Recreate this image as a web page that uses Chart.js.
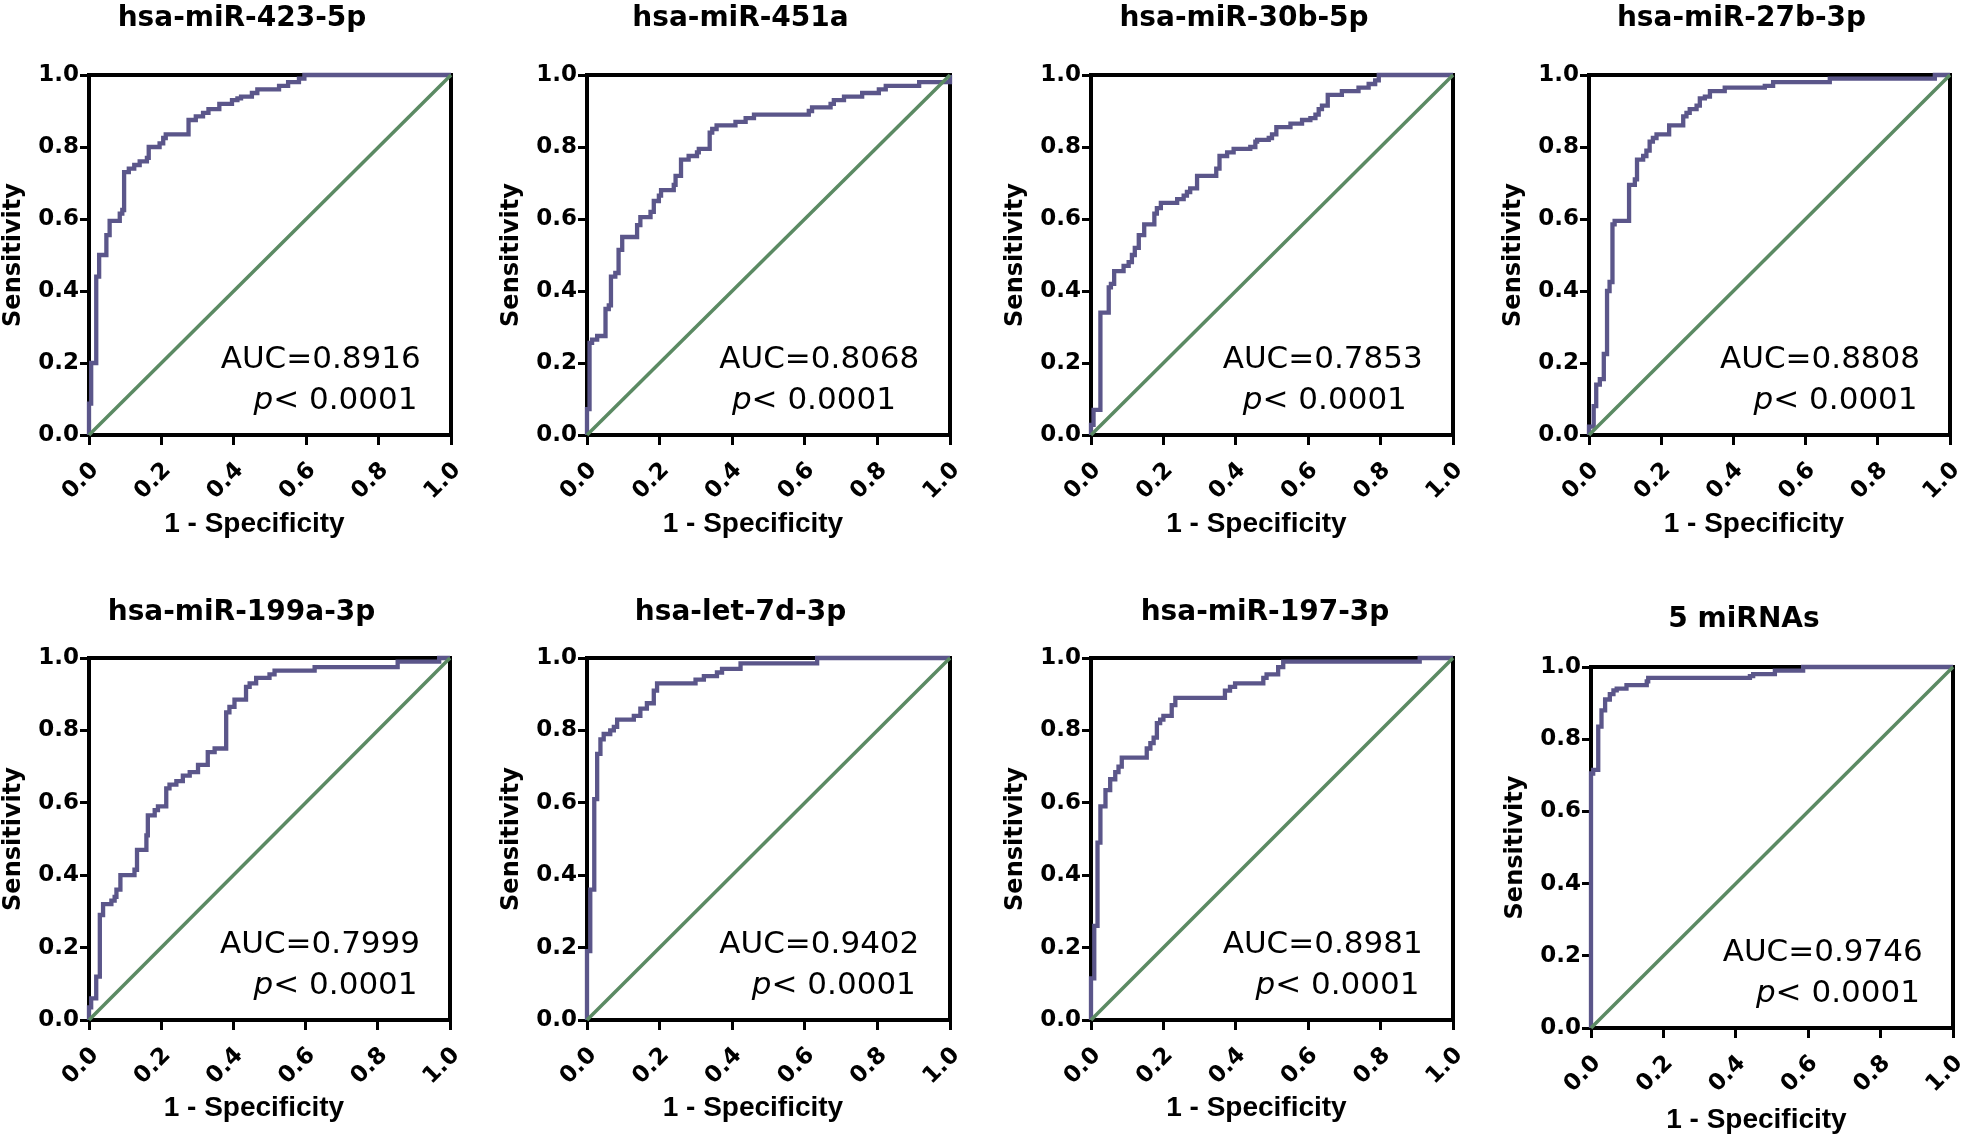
<!DOCTYPE html>
<html>
<head>
<meta charset="utf-8">
<script src="https://cdn.jsdelivr.net/npm/chart.js@4"></script>
<style>
  html, body { margin: 0; padding: 0; background: #fff; overflow: hidden; }
  #wrap { position: relative; width: 1961px; height: 1134px; }
  canvas { position: absolute; }
</style>
</head>
<body>
<div id="wrap"></div>
<script>
// panel titles and AUC values
var titles = ['hsa-miR-423-5p', 'hsa-miR-451a', 'hsa-miR-30b-5p', 'hsa-miR-27b-3p',
              'hsa-miR-199a-3p', 'hsa-let-7d-3p', 'hsa-miR-197-3p', '5 miRNAs'];
var aucs = ['0.8916', '0.8068', '0.7853', '0.8808', '0.7999', '0.9402', '0.8981', '0.9746'];
var tickValues = [0, 0.2, 0.4, 0.6, 0.8, 1.0];

// ROC curves: 1 - specificity (fpr) and sensitivity (tpr), one point per step
var fpr1 = [0, 0, 0.006, 0.020, 0.028, 0.048, 0.057, 0.085, 0.092, 0.097, 0.11, 0.125, 0.14, 0.16, 0.165, 0.195, 0.205, 0.212, 0.275, 0.295, 0.315, 0.33, 0.36, 0.395, 0.41, 0.42, 0.45, 0.465, 0.525, 0.55, 0.58, 0.595, 1.0];
var tpr1 = [0, 0.087, 0.20, 0.44, 0.50, 0.555, 0.595, 0.615, 0.625, 0.73, 0.74, 0.75, 0.76, 0.77, 0.80, 0.81, 0.825, 0.835, 0.875, 0.885, 0.895, 0.905, 0.92, 0.93, 0.935, 0.94, 0.95, 0.96, 0.97, 0.98, 0.99, 1.0, 1.0];

var fpr2 = [0, 0, 0.007, 0.014, 0.028, 0.051, 0.06, 0.066, 0.078, 0.087, 0.097, 0.138, 0.147, 0.175, 0.184, 0.198, 0.204, 0.239, 0.244, 0.259, 0.28, 0.303, 0.308, 0.338, 0.345, 0.357, 0.409, 0.437, 0.46, 0.611, 0.62, 0.671, 0.68, 0.708, 0.758, 0.804, 0.823, 0.915, 1.0];
var tpr2 = [0, 0.072, 0.256, 0.265, 0.275, 0.35, 0.36, 0.44, 0.45, 0.514, 0.55, 0.583, 0.605, 0.62, 0.65, 0.665, 0.68, 0.695, 0.72, 0.765, 0.775, 0.785, 0.795, 0.84, 0.85, 0.86, 0.87, 0.88, 0.89, 0.90, 0.91, 0.92, 0.93, 0.94, 0.95, 0.96, 0.97, 0.98, 1.0];

var fpr3 = [0, 0, 0.007, 0.026, 0.049, 0.055, 0.064, 0.09, 0.104, 0.113, 0.121, 0.132, 0.147, 0.175, 0.182, 0.193, 0.238, 0.256, 0.265, 0.274, 0.293, 0.346, 0.355, 0.376, 0.394, 0.44, 0.454, 0.459, 0.491, 0.5, 0.512, 0.551, 0.583, 0.606, 0.62, 0.629, 0.638, 0.654, 0.693, 0.739, 0.767, 0.785, 0.795, 1.0];
var tpr3 = [0, 0.028, 0.07, 0.34, 0.41, 0.42, 0.455, 0.47, 0.48, 0.50, 0.52, 0.555, 0.585, 0.615, 0.63, 0.645, 0.655, 0.665, 0.675, 0.685, 0.72, 0.74, 0.775, 0.785, 0.795, 0.80, 0.815, 0.82, 0.825, 0.835, 0.855, 0.865, 0.875, 0.88, 0.89, 0.905, 0.915, 0.945, 0.955, 0.965, 0.975, 0.985, 1.0, 1.0];

var fpr4 = [0, 0, 0.013, 0.02, 0.03, 0.041, 0.05, 0.057, 0.065, 0.071, 0.111, 0.127, 0.133, 0.15, 0.159, 0.168, 0.177, 0.187, 0.222, 0.261, 0.27, 0.279, 0.298, 0.307, 0.321, 0.335, 0.376, 0.487, 0.51, 0.667, 0.958, 1.0];
var tpr4 = [0, 0.023, 0.08, 0.14, 0.155, 0.225, 0.40, 0.425, 0.585, 0.595, 0.695, 0.71, 0.765, 0.775, 0.79, 0.815, 0.825, 0.835, 0.86, 0.885, 0.895, 0.905, 0.915, 0.935, 0.94, 0.955, 0.965, 0.97, 0.98, 0.99, 1.0, 1.0];

var fpr5 = [0, 0, 0.006, 0.02, 0.03, 0.039, 0.062, 0.071, 0.076, 0.087, 0.126, 0.133, 0.159, 0.163, 0.182, 0.191, 0.214, 0.223, 0.242, 0.26, 0.279, 0.302, 0.329, 0.348, 0.38, 0.389, 0.403, 0.435, 0.445, 0.463, 0.5, 0.514, 0.625, 0.855, 0.97, 1.0];
var tpr5 = [0, 0.035, 0.06, 0.12, 0.29, 0.32, 0.33, 0.34, 0.36, 0.40, 0.415, 0.47, 0.51, 0.565, 0.58, 0.59, 0.64, 0.65, 0.66, 0.675, 0.685, 0.705, 0.74, 0.75, 0.85, 0.865, 0.885, 0.92, 0.93, 0.945, 0.955, 0.965, 0.975, 0.99, 1.0, 1.0];

var fpr6 = [0, 0, 0.009, 0.02, 0.028, 0.037, 0.046, 0.064, 0.074, 0.083, 0.129, 0.147, 0.165, 0.184, 0.193, 0.299, 0.322, 0.358, 0.372, 0.423, 0.634, 1.0];
var tpr6 = [0, 0.19, 0.36, 0.61, 0.735, 0.775, 0.79, 0.80, 0.81, 0.83, 0.84, 0.86, 0.875, 0.91, 0.93, 0.94, 0.95, 0.96, 0.97, 0.985, 1.0, 1.0];

var fpr7 = [0, 0, 0.009, 0.018, 0.026, 0.04, 0.053, 0.067, 0.076, 0.085, 0.154, 0.164, 0.173, 0.182, 0.191, 0.2, 0.223, 0.233, 0.37, 0.384, 0.398, 0.476, 0.485, 0.517, 0.531, 0.908, 1.0];
var tpr7 = [0, 0.115, 0.26, 0.49, 0.59, 0.635, 0.665, 0.685, 0.70, 0.725, 0.75, 0.765, 0.78, 0.82, 0.83, 0.84, 0.87, 0.89, 0.91, 0.92, 0.93, 0.945, 0.955, 0.975, 0.99, 1.0, 1.0];

var fpr8 = [0, 0, 0.006, 0.02, 0.029, 0.039, 0.052, 0.062, 0.071, 0.098, 0.154, 0.158, 0.439, 0.448, 0.508, 0.586, 1.0];
var tpr8 = [0, 0.705, 0.715, 0.835, 0.88, 0.91, 0.925, 0.935, 0.94, 0.95, 0.96, 0.97, 0.975, 0.98, 0.99, 1.0, 1.0];

// reference line
var diagX = [0, 1];
var diagY = [0, 1];

var fprs = [fpr1, fpr2, fpr3, fpr4, fpr5, fpr6, fpr7, fpr8];
var tprs = [tpr1, tpr2, tpr3, tpr4, tpr5, tpr6, tpr7, tpr8];

// where the canvases sit on the page
var panels = [
  {left: 0,    top: 0,   w: 484, h: 545, rightW: 33, tPad: {top: 5,  bottom: 42}, xPad: 7, pX: 0.681},
  {left: 498,  top: 0,   w: 485, h: 545, rightW: 33, tPad: {top: 5,  bottom: 42}, xPad: 7, pX: 0.625},
  {left: 1002, top: 0,   w: 484, h: 545, rightW: 33, tPad: {top: 5,  bottom: 42}, xPad: 7, pX: 0.646},
  {left: 1500, top: 0,   w: 483, h: 545, rightW: 33, tPad: {top: 5,  bottom: 42}, xPad: 7, pX: 0.683},
  {left: 0,    top: 570, w: 483, h: 560, rightW: 33, tPad: {top: 29, bottom: 31}, xPad: 8, pX: 0.683},
  {left: 498,  top: 570, w: 485, h: 560, rightW: 33, tPad: {top: 29, bottom: 31}, xPad: 8, pX: 0.680},
  {left: 1002, top: 570, w: 526, h: 560, rightW: 75, tPad: {top: 29, bottom: 31}, xPad: 8, pX: 0.681},
  {left: 1502, top: 570, w: 484, h: 568, rightW: 33, tPad: {top: 36, bottom: 33}, xPad: 4, pX: 0.682}
];

var purple = '#5b568a';
var green = '#5b8a63';
var tickFont = {family: 'DejaVu Sans', size: 23, weight: 'bold'};

function pts(xs, ys) {
  return xs.map(function (v, i) { return {x: v, y: ys[i]}; });
}

// AUC and p value text inside the plot
var aucText = {
  id: 'aucText',
  afterDatasetsDraw: function (chart, args, opts) {
    var ctx = chart.ctx;
    var xs = chart.scales.x, ys = chart.scales.y;
    ctx.save();
    ctx.fillStyle = '#000';
    ctx.textBaseline = 'alphabetic';
    ctx.font = '31px "DejaVu Sans"';
    ctx.textAlign = 'center';
    ctx.fillText('AUC=' + opts.auc, xs.getPixelForValue(0.64), ys.getPixelForValue(0.186));
    var rest = '< 0.0001';
    var wRest = ctx.measureText(rest).width;
    ctx.font = 'italic 31px "DejaVu Sans"';
    var wP = ctx.measureText('p').width;
    var start = xs.getPixelForValue(opts.pX) - (wP + wRest) / 2;
    var by = ys.getPixelForValue(0.073);
    ctx.textAlign = 'left';
    ctx.fillText('p', start, by);
    ctx.font = '31px "DejaVu Sans"';
    ctx.fillText(rest, start + wP, by);
    ctx.restore();
  }
};

var wrap = document.getElementById('wrap');

panels.forEach(function (p, i) {
  var canva = document.createElement('canvas');
  canva.width = p.w;
  canva.height = p.h;
  canva.style.left = p.left + 'px';
  canva.style.top = p.top + 'px';
  wrap.appendChild(canva);
  var ctx = canva.getContext('2d');

  var config = {
    type: 'scatter',
    data: {
      datasets: [{
        data: pts(diagX, diagY),
        showLine: true,
        borderColor: green,
        borderWidth: 3.5,
        pointRadius: 0,
        clip: 6
      }, {
        data: pts(fprs[i], tprs[i]),
        showLine: true,
        stepped: true,
        borderColor: purple,
        borderWidth: 4.3,
        pointRadius: 0,
        clip: 6
      }]
    },
    options: {
      responsive: false,
      animation: false,
      devicePixelRatio: 1,
      layout: { padding: 0 },
      plugins: {
        legend: { display: false },
        tooltip: { enabled: false },
        title: {
          display: true,
          text: titles[i],
          color: '#000',
          font: { family: 'DejaVu Sans', size: 28, weight: 'bold', lineHeight: 1 },
          padding: p.tPad
        },
        aucText: { auc: aucs[i], pX: p.pX }
      },
      scales: {
        x: {
          type: 'linear', position: 'bottom', min: 0, max: 1,
          afterBuildTicks: function (s) { s.ticks = tickValues.map(function (v) { return {value: v}; }); },
          ticks: { callback: function (v) { return v.toFixed(1); }, minRotation: 45, maxRotation: 45,
                   padding: 12, labelOffset: 6, color: '#000', font: tickFont },
          grid: { display: true, drawOnChartArea: false, drawTicks: true, tickLength: 10, lineWidth: 3, color: '#000' },
          border: { display: true, color: '#000', width: 4 },
          // trailing spaces pull the centred label a little left, as in the figure
          title: { display: true, text: '1 - Specificity    ', color: '#000',
                   font: { family: 'Liberation Sans', size: 28, weight: 'bold', lineHeight: 1 },
                   padding: { top: 0, bottom: p.xPad } },
          afterFit: function (s) { s.height = 110; }
        },
        y: {
          type: 'linear', position: 'left', min: 0, max: 1,
          afterBuildTicks: function (s) { s.ticks = tickValues.map(function (v) { return {value: v}; }); },
          ticks: { callback: function (v) { return v.toFixed(1); }, padding: 1, color: '#000', font: tickFont },
          grid: { display: true, drawOnChartArea: false, drawTicks: true, tickLength: 9, lineWidth: 3, color: '#000' },
          border: { display: true, color: '#000', width: 4 },
          title: { display: true, text: 'Sensitivity', color: '#000',
                   font: { family: 'DejaVu Sans', size: 24, weight: 'bold', lineHeight: 1 },
                   padding: { top: 2, bottom: 0 } },
          afterFit: function (s) { s.width = 89; }
        },
        x2: {
          type: 'linear', position: 'top', min: 0, max: 1,
          ticks: { display: false },
          grid: { display: false, drawTicks: false },
          border: { display: true, color: '#000', width: 4 },
          afterFit: function (s) { s.height = 0; }
        },
        y2: {
          type: 'linear', position: 'right', min: 0, max: 1,
          ticks: { display: false },
          grid: { display: false, drawTicks: false },
          border: { display: true, color: '#000', width: 4 },
          afterFit: function (s) { s.width = p.rightW; }
        }
      }
    },
    plugins: [aucText]
  };
  new Chart(ctx, config);
});
</script>
</body>
</html>
